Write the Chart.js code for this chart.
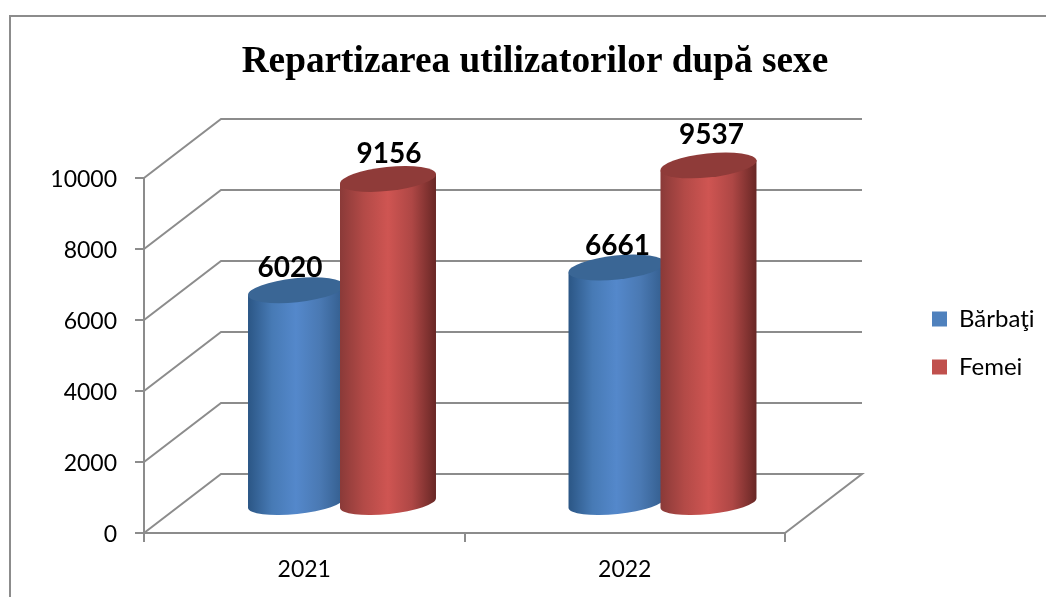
<!DOCTYPE html>
<html><head><meta charset="utf-8">
<style>html,body{margin:0;padding:0;background:#fff}canvas{display:block}</style>
<script src="https://cdn.jsdelivr.net/npm/chart.js@4"></script>
</head><body><canvas id="c" width="1046" height="597"></canvas>
<script>
const categories = ["2021", "2022"];
const seriesNames = ["Bărbaţi", "Femei"];
const barbati = [6020, 6661];
const femei = [9156, 9537];
const titleText = "Repartizarea utilizatorilor după sexe";
const solid = ["#4f81bd", "#c0504d"];
const caps = ["#3a6695", "#8f3b39"];
const stops = [
  ["#2b5685","#477ab5","#5488cb","#4a79b3","#335d8d"],
  ["#8a3a38","#b34a47","#cf5552","#ae4745","#682725"]
];
const labelNudge = [[[-6,-22],[1,-22]],[[1,-25],[3,-30]]];
const DEPTH_X = 77, DEPTH_Y = -59, GREY = "#8c8c8c";

const scene = {
  id: "scene",
  afterLayout(chart) {
    const l = chart.legend, t = chart.titleBlock;
    Object.assign(l, {left: 908, right: 1046, top: 283, bottom: 597, width: 138, height: 314});
    Object.assign(t, {left: 0, right: 1070});
  },
  beforeDraw(chart) {
    const c = chart.ctx;
    c.save();
    c.fillStyle = "#fff"; c.fillRect(0,0,1046,597);
    c.strokeStyle = GREY; c.lineWidth = 2;
    c.beginPath(); c.moveTo(10,597); c.lineTo(10,16); c.lineTo(1046,16); c.stroke();
    c.restore();
  },
  beforeDatasetsDraw(chart) {
    const c = chart.ctx, y = chart.scales.y, a = chart.chartArea;
    c.save();
    c.strokeStyle = GREY; c.lineWidth = 2; c.lineJoin = "miter";
    y.ticks.forEach(t => {
      const py = y.getPixelForValue(t.value);
      c.beginPath();
      c.moveTo(a.left, py);
      c.lineTo(a.left + DEPTH_X, py + DEPTH_Y);
      c.lineTo(a.right + DEPTH_X, py + DEPTH_Y);
      if (t.value === 0) c.lineTo(a.right, py);
      c.stroke();
    });
    c.restore();
    const dx = DEPTH_X / 2 - 0.75, dy = DEPTH_Y / 2 + 0.5, tilt = -6 * Math.PI / 180, ry = 11;
    chart.data.datasets.forEach((ds, i) => {
      chart.getDatasetMeta(i).data.forEach(el => {
        const p = el.getProps(["x","y","base","width"], true);
        const w = p.width + 4, cx = p.x + dx, top = p.y + dy, bot = p.base + dy;
        const lx = cx - w/2, rx = cx + w/2, k = Math.tan(tilt) * w/2;
        const g = c.createLinearGradient(lx,0,rx,0);
        [0,0.25,0.5,0.75,1].forEach((s,n)=>g.addColorStop(s, stops[i][n]));
        c.save();
        c.beginPath();
        c.moveTo(lx, top - k);
        c.lineTo(lx, bot - k);
        c.ellipse(cx, bot, w/2 / Math.cos(tilt), ry, tilt, Math.PI, 0, true);
        c.lineTo(rx, top + k);
        c.closePath();
        c.fillStyle = g; c.fill();
        c.beginPath();
        c.ellipse(cx, top, w/2 / Math.cos(tilt), ry + 1, tilt, 0, Math.PI*2);
        c.fillStyle = caps[i]; c.fill();
        c.restore();
      });
    });
  },
  beforeDatasetDraw() { return false; },
  afterDatasetsDraw(chart) {
    const c = chart.ctx;
    const dx = DEPTH_X / 2 - 0.75, dy = DEPTH_Y / 2 + 0.5;
    c.save();
    c.font = "bold 28px Lato"; c.fillStyle = "#000"; c.textAlign = "center"; c.textBaseline = "middle";
    chart.data.datasets.forEach((ds,i) => {
      chart.getDatasetMeta(i).data.forEach((el,j) => {
        const n = labelNudge[i][j];
        c.fillText(String(ds.data[j]), el.x + dx + n[0], el.y + dy + n[1]);
      });
    });
    c.restore();
  }
};

new Chart(document.getElementById("c"), {
  type: "bar",
  plugins: [scene],
  data: {
    labels: categories,
    datasets: [
      {label: seriesNames[0], data: barbati, backgroundColor: solid[0]},
      {label: seriesNames[1], data: femei, backgroundColor: solid[1]}
    ]
  },
  options: {
    responsive: false, animation: false,
    layout: {autoPadding: false, padding: {left: 0, right: 261, top: 0, bottom: 0}},
    datasets: {bar: {categoryPercentage: 0.574, barPercentage: 1}},
    plugins: {
      tooltip: {enabled: false},
      title: {display: true, text: titleText, color: "#000",
        font: {family: "Liberation Serif", size: 37.3, weight: "bold", lineHeight: 1.2},
        padding: {top: 40, bottom: 93.2}},
      legend: {position: "chartArea", align: "start",
        labels: {boxWidth: 15, boxHeight: 15, padding: 24, color: "#000",
          font: {family: "Lato", size: 24}}}
    },
    scales: {
      x: {
        afterFit(s){ s.height = 64; },
        border: {color: GREY, width: 2},
        grid: {drawOnChartArea: false, drawTicks: true, tickLength: 9, color: GREY, lineWidth: 2, offset: true},
        ticks: {color: "#000", padding: 14, font: {family: "Lato", size: 23}}
      },
      y: {
        min: 0, max: 10000,
        afterFit(s){ s.width = 144; },
        border: {color: GREY, width: 2},
        grid: {drawOnChartArea: false, drawTicks: true, tickLength: 9, color: GREY, lineWidth: 2},
        ticks: {stepSize: 2000, color: "#000", padding: 18, labelOffset: 1.5,
          font: {family: "Lato", size: 23}, callback: v => String(v)}
      }
    }
  }
});
</script></body></html>
